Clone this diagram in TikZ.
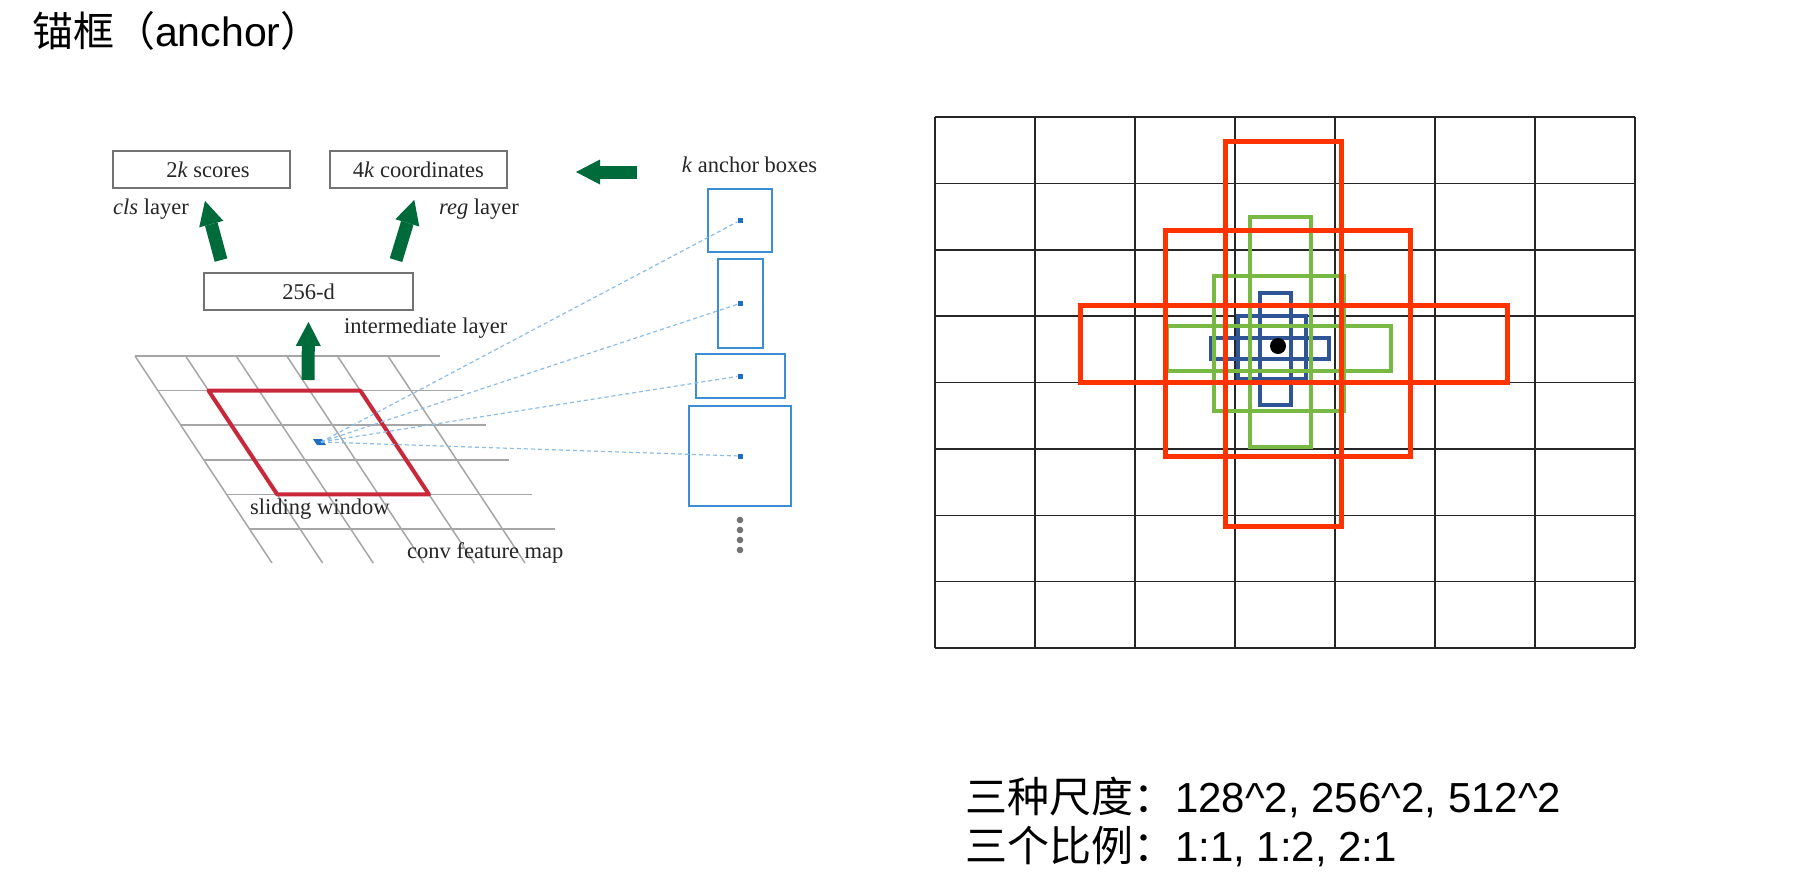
\documentclass[tikz,border=0pt]{standalone}
\usepackage{fontspec}
\setmainfont{Liberation Sans}
\newfontfamily\cjk{Noto Sans CJK SC}
\newfontfamily\tms{Liberation Serif}
\usepackage{tikz}
\usetikzlibrary{arrows.meta, positioning}

\definecolor{arrowgreen}{HTML}{006B3A}
\definecolor{windowred}{HTML}{C8283A}
\definecolor{anchorblue}{HTML}{3B8ED4}
\definecolor{dotblue}{HTML}{1E6FBF}
\definecolor{dashblue}{HTML}{8CBDE8}
\definecolor{bigred}{HTML}{FF3300}
\definecolor{midgreen}{HTML}{78B943}
\definecolor{smallblue}{HTML}{2F5597}

\begin{document}
\begin{tikzpicture}[
  x=1pt, y=-1pt,
  layerbox/.style={rectangle, draw=black!55, line width=1.8pt, minimum height=37pt,
    inner sep=0pt, font=\tms\fontsize{22.5}{26}\selectfont, text=black!85},
  lbl/.style={inner sep=0pt, font=\tms\fontsize{22.5}{26}\selectfont, text=black!85},
  bigarrow/.style={line width=13pt, draw=arrowgreen,
    -{Triangle[width=25pt, length=24pt, line width=0pt]}},
  fmline/.style={draw=black!35, line width=1.5pt},
  abox/.style={rectangle, draw=anchorblue, line width=2pt, inner sep=0pt},
  cdot/.style={rectangle, fill=dotblue, minimum size=5pt, inner sep=0pt},
  rayline/.style={draw=dashblue, line width=1.2pt, dash pattern=on 4pt off 3pt},
  cell/.style={draw=black!85, line width=1.5pt},
  zh/.style={inner sep=0pt, anchor=west, font=\fontsize{42}{50}\selectfont}
]
\useasboundingbox (0,0) rectangle (1812,892);
\fill[white] (0,0) rectangle (1812,892);

% title
\node[zh, font=\fontsize{41}{48}\selectfont] (title) at (32,31) {{\cjk 锚框（}anchor{\cjk ）}};

% conv feature map
\foreach \j in {0,...,5}
  \draw[fmline] ({135+22.9*\j},{356+34.6*\j}) -- ({440+22.9*\j},{356+34.6*\j});
\foreach \k in {0,...,5}
  \draw[fmline] ({135+50.6*\k},356) -- ({272+50.6*\k},563);
\draw[windowred, line width=4pt, line join=round]
  (208.5,390.6) -- (360.3,390.6) -- (429,494.4) -- (277.2,494.4) -- cycle;
\coordinate (win) at (321,442);
\fill[dotblue] (313,439) -- (322,439) -- (326,445) -- (317,445) -- cycle;

\node[lbl, anchor=west] (slidelbl) at (250,509) {sliding window};
\node[lbl, anchor=west] (convlbl) at (407,553) {conv feature map};

% layers
\node[layerbox, minimum width=177pt] (scores) at (201.5,169.5) {\hspace*{13pt}2\textit{k} scores};
\node[layerbox, minimum width=177pt, right=38pt of scores] (coords) {4\textit{k} coordinates};
\node[layerbox, minimum width=209pt] (mid) at (308.5,291.5) {256-d};

\node[lbl, anchor=west] (clslbl) at (113,209) {\textit{cls} layer};
\node[lbl, anchor=west] (reglbl) at (439,209) {\textit{reg} layer};
\node[lbl, anchor=west] (midlbl) at (344,328) {intermediate layer};

\coordinate (upfoot) at (308,380);
\coordinate (ltail) at (637,172);
\coordinate (lhead) at (576,172);
\draw[bigarrow] ([shift={(-87.5,-12)}]mid.north) -- ([shift={(3.5,12)}]scores.south);
\draw[bigarrow] ([shift={(87.5,-12)}]mid.north) -- ([shift={(-4,11)}]coords.south);
\draw[bigarrow] (upfoot) -- ([shift={(0,11)}]mid.south);
\draw[bigarrow] (ltail) -- (lhead);

% k anchor boxes
\node[lbl] (anchorlbl) at (749.5,165) {\textit{k} anchor boxes};
\node[abox, minimum width=64pt, minimum height=63pt] (a1) at (740,220.5) {};
\node[abox, minimum width=45pt, minimum height=89pt, below=5pt of a1] (a2) {};
\node[abox, minimum width=89pt, minimum height=44pt, below=4pt of a2] (a3) {};
\node[abox, minimum width=102pt, minimum height=100pt, below=6pt of a3] (a4) {};
\node[cdot] (d1) at (a1) {};
\node[cdot] (d2) at (a2) {};
\node[cdot] (d3) at (a3) {};
\node[cdot] (d4) at (a4) {};
\draw[rayline] (win) -- (d1);
\draw[rayline] (win) -- (d2);
\draw[rayline] (win) -- (d3);
\draw[rayline] (win) -- (d4);
\foreach \yy in {520,530,540,550}
  \fill[black!55] (740,\yy) circle (3.3pt);

% anchors on the image grid
\foreach \i in {0,...,7}
  \draw[cell] ({935+100*\i},117) -- ({935+100*\i},648);
\foreach \j in {0,...,8}
  \draw[cell] (935,{117+66.375*\j}) -- (1635,{117+66.375*\j});

\draw[smallblue, line width=4pt] (1260,293) rectangle (1291,405);
\draw[smallblue, line width=4pt] (1238,316) rectangle (1306,379);
\draw[smallblue, line width=4pt] (1211,337.5) rectangle (1329,359);

\draw[midgreen, line width=4pt] (1250,217) rectangle (1311,447);
\draw[midgreen, line width=4pt] (1213.5,276) rectangle (1343.5,411);
\draw[midgreen, line width=4pt] (1167,326) rectangle (1390.5,371);

\draw[bigred, line width=5pt] (1225.5,141.5) rectangle (1341.5,526.5);
\draw[bigred, line width=5pt] (1165.5,230.5) rectangle (1410,456);
\draw[bigred, line width=5pt] (1080,305) rectangle (1507,382.5);

\fill[black] (1278,346) circle (8pt);

% notes
\node[zh] (scales) at (965,797) {{\cjk 三种尺度：}128\textasciicircum 2, 256\textasciicircum 2, 512\textasciicircum 2};
\node[zh] (ratios) at (965,847) {{\cjk 三个比例：}1:1, 1:2, 2:1};
\end{tikzpicture}
\end{document}
